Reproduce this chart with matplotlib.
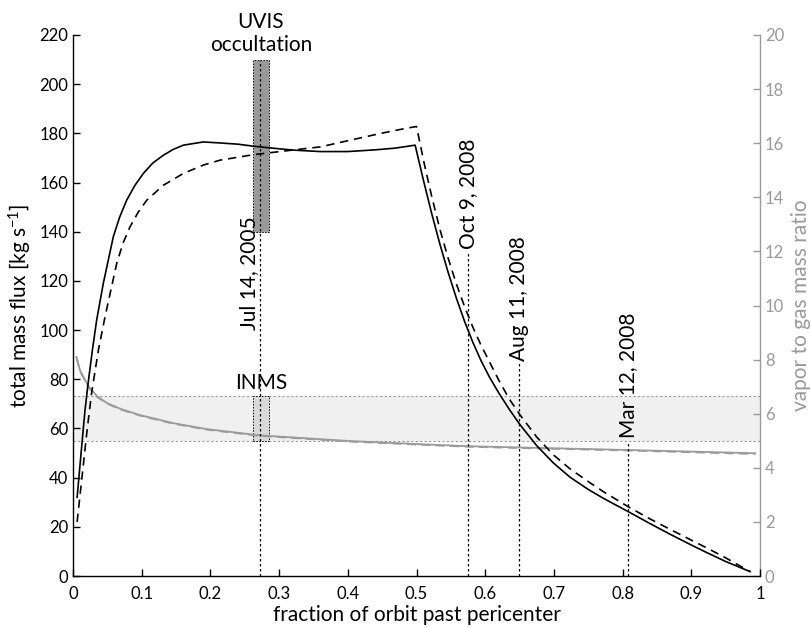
import matplotlib
matplotlib.use("Agg")
import matplotlib.pyplot as plt
from matplotlib.patches import Rectangle

plt.rcParams['font.family'] = ['Lato', 'DejaVu Sans']
plt.rcParams['mathtext.fontset'] = 'custom'
plt.rcParams['mathtext.rm'] = 'Lato'
plt.rcParams['mathtext.it'] = 'Lato:italic'
plt.rcParams['mathtext.bf'] = 'Lato:bold'

# ---- data ----
solid_x = [0.006, 0.0126, 0.0175, 0.0223, 0.0283, 0.0344, 0.0441, 0.0587, 0.068, 0.0781, 0.09,
           0.1024, 0.116, 0.1315, 0.146, 0.1606, 0.1897, 0.214, 0.24, 0.262, 0.29, 0.32, 0.36,
           0.40, 0.44, 0.469, 0.498,
           0.51, 0.522, 0.534, 0.546, 0.558, 0.57, 0.582, 0.594, 0.606, 0.62, 0.635,
           0.6507, 0.675, 0.6995, 0.7234, 0.75, 0.772, 0.808, 0.84, 0.869, 0.9, 0.922,
           0.95, 0.9855]
solid_y = [32, 52.6, 67.5, 79, 92, 104, 119, 138, 146, 152.8, 158.8,
           163.7, 167.9, 171.1, 173.5, 175.2, 176.5, 176.1, 175.6, 174.8, 174.0, 173.2, 172.6,
           172.6, 173.3, 174.0, 175.2,
           161, 147.5, 135, 123.5, 113, 103.5, 95, 87.5, 81, 74.3, 67.8,
           61.5, 53, 45.9, 40.2, 35.2, 31.6, 26.2, 21.3, 17.0, 12.6, 9.6,
           5.9, 1.8]

dash_x = [0.006, 0.0126, 0.02, 0.027, 0.037, 0.0466, 0.0636, 0.073, 0.083, 0.095, 0.1073,
          0.1315, 0.1606, 0.1897, 0.214, 0.262, 0.31, 0.36, 0.40, 0.44, 0.469, 0.49, 0.5,
          0.511, 0.522, 0.534, 0.546, 0.558, 0.57, 0.582, 0.594, 0.606, 0.62, 0.635,
          0.6507, 0.675, 0.6995, 0.7234, 0.75, 0.772, 0.808, 0.84, 0.869, 0.9, 0.922,
          0.95, 0.9855]
dash_y = [22, 39, 58, 74.3, 91.9, 105.4, 127.1, 135.5, 142, 148, 152.8,
          158.9, 163.7, 167.1, 169.1, 171.3, 172.9, 174.5, 177, 179.5, 181.2, 182.3, 182.8,
          168, 154.5, 141, 129.3, 118.8, 109.5, 101.2, 93.8, 87.2, 79.5, 72,
          65.5, 56.5, 49.2, 43.6, 38.4, 34.3, 28.2, 23.2, 19, 14.6, 11.5,
          7.4, 1.8]

ratio_x = [0.005, 0.0102, 0.0223, 0.035, 0.049, 0.07, 0.0975, 0.146, 0.195, 0.272,
           0.403, 0.5, 0.573, 0.621, 0.806, 0.993]
ratio_solid = [8.1, 7.6, 7.02, 6.65, 6.4, 6.17, 5.95, 5.65, 5.43, 5.2,
               4.99, 4.88, 4.8, 4.77, 4.66, 4.54]
ratio_dash = [8.07, 7.57, 6.99, 6.62, 6.38, 6.15, 5.93, 5.63, 5.41, 5.18,
              4.97, 4.86, 4.78, 4.75, 4.64, 4.51]

band_ratio = [5.0, 6.67]           # INMS range (right axis)
inst_x = [0.2615, 0.2857]          # observation window
uvis_flux = [140, 210]             # UVIS occultation range (left axis)

date_labels = ['Jul 14, 2005', 'Oct 9, 2008', 'Aug 11, 2008', 'Mar 12, 2008']
date_x = [0.2727, 0.5755, 0.6497, 0.808]
date_line_top = [210, 131.8, 86.6, 55.0]
date_text_start = [100, 131.8, 86.6, 55.0]

x_ticks = [0, 0.1, 0.2, 0.3, 0.4, 0.5, 0.6, 0.7, 0.8, 0.9, 1]
x_ticklabels = ['0', '0.1', '0.2', '0.3', '0.4', '0.5', '0.6', '0.7', '0.8', '0.9', '1']
left_ticks = list(range(0, 221, 20))
right_ticks = list(range(0, 21, 2))

# ---- figure ----
fig = plt.figure(figsize=(8.12, 6.27), dpi=100)
ax = fig.add_axes([0.0899, 0.0813, 0.936 - 0.0899, 0.9442 - 0.0813])
ax2 = ax.twinx()

GRAY = '#9a9a9a'
ax.set_xlim(0, 1)
ax.set_ylim(0, 220)
ax2.set_ylim(0, 20)

# INMS band (right axis)
ax2.axhspan(band_ratio[0], band_ratio[1], color='#f0f0f0', zorder=0, lw=0)
for b in band_ratio:
    ax2.axhline(b, color=GRAY, lw=0.8, ls=(0, (2, 2)), zorder=1)
ax2.add_patch(Rectangle((inst_x[0], band_ratio[0]), inst_x[1] - inst_x[0],
                        band_ratio[1] - band_ratio[0], facecolor='#d9d9d9',
                        edgecolor='black', lw=0.7, ls=(0, (1.5, 1.5)), zorder=1.5))
ax2.text(sum(inst_x) / 2, band_ratio[1] + 0.1, 'INMS', ha='center', va='bottom',
         fontsize=15)

# gray ratio curves
ax2.plot(ratio_x, ratio_dash, color=GRAY, lw=1.3, ls=(0, (5, 3)), zorder=2)
ax2.plot(ratio_x, ratio_solid, color=GRAY, lw=1.3, zorder=2)

# UVIS box
ax.add_patch(Rectangle((inst_x[0], uvis_flux[0]), inst_x[1] - inst_x[0],
                       uvis_flux[1] - uvis_flux[0], facecolor='#999999',
                       edgecolor='black', lw=0.7, ls=(0, (1.5, 1.5)), zorder=2))
ax.text(sum(inst_x) / 2, uvis_flux[1] + 2, 'UVIS\noccultation', ha='center',
        va='bottom', fontsize=15, linespacing=1.15, clip_on=False)

# date lines
for lbl, xd, top, ts in zip(date_labels, date_x, date_line_top, date_text_start):
    ax.plot([xd, xd], [0, top], color='black', lw=0.9, ls=(0, (2, 2)), zorder=3)
    if ts == top:
        ax.text(xd, ts + 1, lbl, rotation=90, rotation_mode='anchor', ha='left',
                va='center', fontsize=15)
    else:
        ax.text(xd - 0.002, ts, lbl, rotation=90, rotation_mode='anchor', ha='left',
                va='bottom', fontsize=15)

# main curves
ax.plot(solid_x, solid_y, color='black', lw=1.2, zorder=4)
ax.plot(dash_x, dash_y, color='black', lw=1.2, ls=(0, (5, 3.5)), zorder=4)

ax.set_zorder(ax2.get_zorder() + 1)
ax.patch.set_visible(False)

# axes styling
ax.set_xticks(x_ticks)
ax.set_xticklabels(x_ticklabels)
ax.set_yticks(left_ticks)
ax2.set_yticks(right_ticks)
for a in (ax, ax2):
    a.spines['top'].set_visible(False)
ax.spines['right'].set_visible(False)
ax2.spines['left'].set_visible(False)
ax2.spines['bottom'].set_visible(False)
ax.spines['left'].set_linewidth(1.0)
ax.spines['bottom'].set_linewidth(1.0)
ax2.spines['right'].set_color(GRAY)
ax2.spines['right'].set_linewidth(1.0)
ax.tick_params(axis='both', direction='in', length=5, width=1.0, labelsize=12,
               colors='black')
ax.tick_params(axis='x', pad=7)
ax2.tick_params(axis='y', direction='in', length=5, width=1.0, labelsize=12,
                colors=GRAY)
ax.set_xlabel('fraction of orbit past pericenter', fontsize=15, labelpad=2)
ax.set_ylabel('total mass flux [kg s$^{-1}$]', fontsize=15, labelpad=4)
ax2.set_ylabel('vapor to gas mass ratio', fontsize=15, color=GRAY, labelpad=5)

fig.savefig('out.png', dpi=100)
